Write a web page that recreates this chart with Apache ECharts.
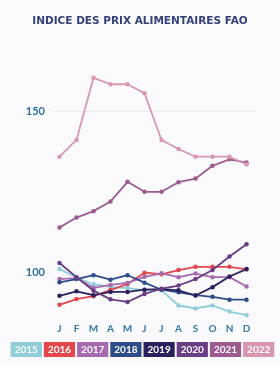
<!DOCTYPE html>
<html><head><meta charset="utf-8">
<script src="https://cdn.jsdelivr.net/npm/echarts@6/dist/echarts.min.js"></script>
<style>html,body{margin:0;padding:0;background:#fafafc}#c{width:280px;height:365px}</style>
</head><body><div id="c"></div>
<script>
const months = ['J','F','M','A','M','J','J','A','S','O','N','D'];
const years = ['2015','2016','2017','2018','2019','2020','2021','2022'];
const colors = ['#8fcdd8','#e2474b','#a66aae','#2d4d8a','#2a215c','#6a3d85','#9c5a8e','#d996b1'];
const yLabels = [100, 150];
const v2015 = [100.9, 98.3, 96.2, 95.4, 95.0, 94.4, 94.3, 89.6, 88.7, 89.6, 87.7, 86.6];
const v2016 = [89.8, 91.6, 92.5, 94.4, 96.3, 99.8, 99.3, 100.6, 101.6, 101.6, 101.6, 100.8];
const v2017 = [97.8, 98.1, 95.1, 96.0, 96.6, 98.5, 99.6, 98.4, 99.5, 98.4, 98.4, 95.5];
const v2018 = [96.8, 97.8, 99.0, 97.6, 99.0, 96.7, 94.5, 93.7, 92.8, 92.3, 91.4, 91.4];
const v2019 = [92.6, 94.0, 92.8, 93.8, 93.8, 94.5, 94.7, 94.3, 92.7, 95.3, 98.6, 100.9];
const v2020 = [102.8, 98.4, 94.2, 91.5, 90.7, 93.2, 94.8, 95.8, 97.8, 100.6, 104.8, 108.6];
const v2021 = [113.8, 116.9, 118.9, 121.9, 128.0, 124.9, 124.9, 127.9, 129.0, 133.0, 135.0, 134.0];
const v2022 = [135.8, 141.0, 160.3, 158.3, 158.3, 155.5, 141.0, 138.2, 135.8, 135.8, 135.8, 133.4];
const values = [v2015, v2016, v2017, v2018, v2019, v2020, v2021, v2022];

const chart = echarts.init(document.getElementById('c'), null, {renderer:'canvas'});
const series = years.map((y, i) => ({
  name: y, type: 'line', data: values[i],
  symbol: 'circle', symbolSize: 4.5, smooth: false,
  lineStyle: {width: 1.8, color: colors[i]},
  itemStyle: {color: colors[i]},
  emphasis: {disabled: true},
  z: 2 + i
}));
series[7].markLine = {
  silent: true, symbol: 'none', animation: false,
  label: {show: false},
  lineStyle: {color: '#ebebee', type: 'solid', width: 1},
  data: [{yAxis: 150}]
};
chart.setOption({
  backgroundColor: '#fafafc',
  animation: false,
  title: {
    text: 'INDICE DES PRIX ALIMENTAIRES FAO', left: 'center', top: 11,
    textStyle: {color: '#34427a', fontSize: 10.5, fontWeight: 'bold', fontFamily: 'DejaVu Sans'}
  },
  grid: {left: 51, right: 25, top: 62.7, bottom: 44.7},
  xAxis: {
    type: 'category', data: months, boundaryGap: true,
    axisLine: {show: false}, axisTick: {show: false}, splitLine: {show: false},
    axisLabel: {color: '#3479a8', fontSize: 10, fontWeight: 'bold', fontFamily: 'Lato', margin: 3}
  },
  yAxis: {
    type: 'value', min: 85, max: 165, interval: 5,
    axisLine: {show: false}, axisTick: {show: false}, splitLine: {show: false},
    axisLabel: {
      color: '#2f6fa0', fontSize: 11, fontWeight: 'bold', fontFamily: 'Lato', margin: 6,
      formatter: v => yLabels.includes(v) ? String(v) : ''
    }
  },
  legend: {
    bottom: 8, left: 'center', width: 280, padding: 0,
    itemWidth: 0, itemHeight: 0, itemGap: -3,
    selectedMode: false,
    data: years.map((y, i) => ({
      name: y, icon: 'none',
      textStyle: {color: '#fff', backgroundColor: colors[i], padding: [3, 4, 2, 4],
                  fontSize: 10, fontWeight: 'bold', fontFamily: 'Lato'}
    }))
  },
  series: series
});
</script></body></html>
